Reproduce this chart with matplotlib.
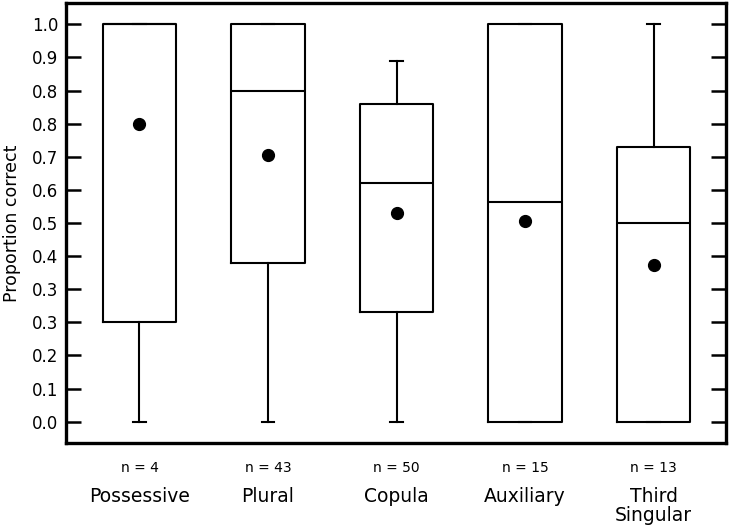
import matplotlib
matplotlib.use("Agg")
import matplotlib.pyplot as plt
import numpy as np

# summary stats
categories = ["Possessive", "Plural", "Copula", "Auxiliary", "Third\nSingular"]
n_counts = [4, 43, 50, 15, 13]
q1 = [0.25, 0.40, 0.277, 0.0, 0.0]
medians = [1.0, 0.833, 0.60, 0.554, 0.50]
q3 = [1.0, 1.0, 0.799, 1.0, 0.69]
whislo = [0.0, 0.0, 0.0, 0.0, 0.0]
whishi = [1.0, 1.0, 0.908, 1.0, 1.0]
means = [0.75, 0.672, 0.526, 0.505, 0.394]

ytick_vals = [k / 12 for k in range(13)]
ytick_labels = ["0.0", "0.1", "0.2", "0.3", "0.3", "0.4", "0.5",
                "0.6", "0.7", "0.8", "0.8", "0.9", "1.0"]

plt.rcParams['font.family'] = ['DejaVu Sans']

fig = plt.figure(figsize=(7.3, 5.28), dpi=100)
ax = fig.add_axes([0.0904, 0.161, 0.9041, 0.8333])

stats = []
for i in range(len(categories)):
    stats.append({
        'label': categories[i],
        'q1': q1[i], 'med': medians[i], 'q3': q3[i],
        'whislo': whislo[i], 'whishi': whishi[i],
        'mean': means[i], 'fliers': [],
    })

positions = np.arange(1, len(categories) + 1)
line = dict(color='black', linewidth=1.5)
ax.bxp(stats, positions=positions, widths=0.575, capwidths=0.096,
       showmeans=True, showfliers=False,
       boxprops=line, whiskerprops=line, capprops=line, medianprops=line,
       meanprops=dict(marker='o', markerfacecolor='black',
                      markeredgecolor='black', markersize=8.5))

ax.set_xlim(0.428, 5.564)
ax.set_ylim(-0.0536, 1.0536)

ax.set_yticks(ytick_vals)
ax.set_yticklabels(ytick_labels)
ax.tick_params(axis='y', which='both', direction='in', length=11, width=1.8,
               labelsize=12, pad=5.5, left=True, right=True)
ax.tick_params(axis='x', bottom=False, labelbottom=False)

for sp in ax.spines.values():
    sp.set_linewidth(2.4)

ax.set_ylabel("Proportion correct", fontsize=12.5, labelpad=8)

xt = ax.get_xaxis_transform()
for i, pos in enumerate(positions):
    ax.text(pos, -0.042, "n = " + str(n_counts[i]), transform=xt,
            ha='center', va='top', fontsize=10)
    ax.text(pos, -0.1, categories[i], transform=xt,
            ha='center', va='top', fontsize=13.5, linespacing=0.98)

fig.savefig("out.png", dpi=100)
